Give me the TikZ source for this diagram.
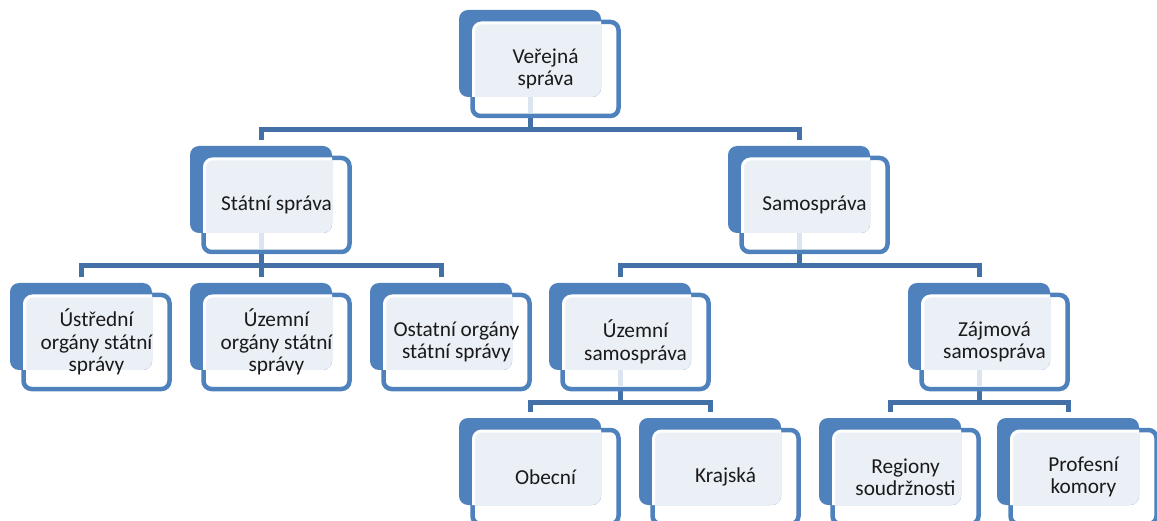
\documentclass[tikz,border=0pt]{standalone}
\usepackage{fontspec}
\setmainfont{Carlito}
\usetikzlibrary{calc}
\definecolor{boxblue}{HTML}{4F81BD}
\definecolor{connblue}{HTML}{4470A8}
\definecolor{lightfill}{HTML}{EBF0F7}
\definecolor{faintline}{HTML}{DCE4EF}
\definecolor{txtcol}{HTML}{1A1A1A}
\pgfdeclarelayer{bg}
\pgfsetlayers{bg,main}
\tikzset{
  backbox/.style={draw=none, fill=boxblue, rounded corners=9pt, minimum width=142pt, minimum height=87pt, anchor=north west, outer sep=0pt, inner sep=0pt},
  framebox/.style={draw=boxblue, line width=4.5pt, fill=white, rounded corners=8pt, minimum width=146pt, minimum height=94pt, anchor=north west, outer sep=0pt, inner sep=0pt},
  boxtext/.style={align=center, font=\fontsize{21.3}{22.5}\selectfont, text=txtcol, inner sep=0pt},
  conn/.style={draw=connblue, line width=5pt},
  faint/.style={draw=faintline, line width=5pt},
}
\newcommand\chartbox[4]{%
  \node[framebox] (#1) at ($(#2,#3)+(13.5,12)$) {};
  \node[backbox] (#1-b) at (#2,#3) {};
  \begin{scope}
    \clip[rounded corners=9pt] (#1-b.north west) rectangle (#1-b.south east);
    \draw[white, line width=3pt, fill=lightfill, rounded corners=8pt] ($(#1.north west)+(1,1)$) rectangle (#1.south east);
  \end{scope}
  \node[boxtext] (#1-t) at (#1.center) {#4};
}
\newcommand\chartstub[1]{%
  \draw[faint] (#1-b.south) -- ($(#1-b.south |- #1.south)+(0,-3)$);
}
\newcommand\chartlink[2]{%
  \draw[conn] (#1-b.south |- #1.south) -- ($(#1-b.south |- #1.south)+(0,13.5)$) -| ($(#2-b.north)+(0,-6)$);
}
\begin{document}
\begin{tikzpicture}[x=1pt,y=-1pt]
\useasboundingbox (0,0) rectangle (1157,521);
% level 0
\chartbox{v}{459}{10}{Veřejná\\správa}
\chartstub{v}
% level 1
\chartbox{s}{190}{146}{Státní správa}
\chartstub{s}
\chartbox{m}{728}{146}{Samospráva}
\chartstub{m}
% level 2
\chartbox{u1}{10}{283}{Ústřední\\orgány státní\\správy}
\chartbox{u2}{190}{283}{Územní\\orgány státní\\správy}
\chartbox{u3}{370}{283}{Ostatní orgány\\státní správy}
\chartbox{us}{549}{283}{Územní\\samospráva}
\chartstub{us}
\chartbox{zs}{908}{283}{Zájmová\\samospráva}
\chartstub{zs}
% level 3
\chartbox{ob}{459}{418}{Obecní}
\chartbox{kr}{639}{418}{Krajská}
\chartbox{rg}{819}{418}{Regiony\\soudržnosti}
\chartbox{pk}{997}{418}{Profesní\\komory}
% connectors
\begin{pgfonlayer}{bg}
\chartlink{v}{s}
\chartlink{v}{m}
\chartlink{s}{u1}
\chartlink{s}{u2}
\chartlink{s}{u3}
\chartlink{m}{us}
\chartlink{m}{zs}
\chartlink{us}{ob}
\chartlink{us}{kr}
\chartlink{zs}{rg}
\chartlink{zs}{pk}
\end{pgfonlayer}
\end{tikzpicture}
\end{document}
